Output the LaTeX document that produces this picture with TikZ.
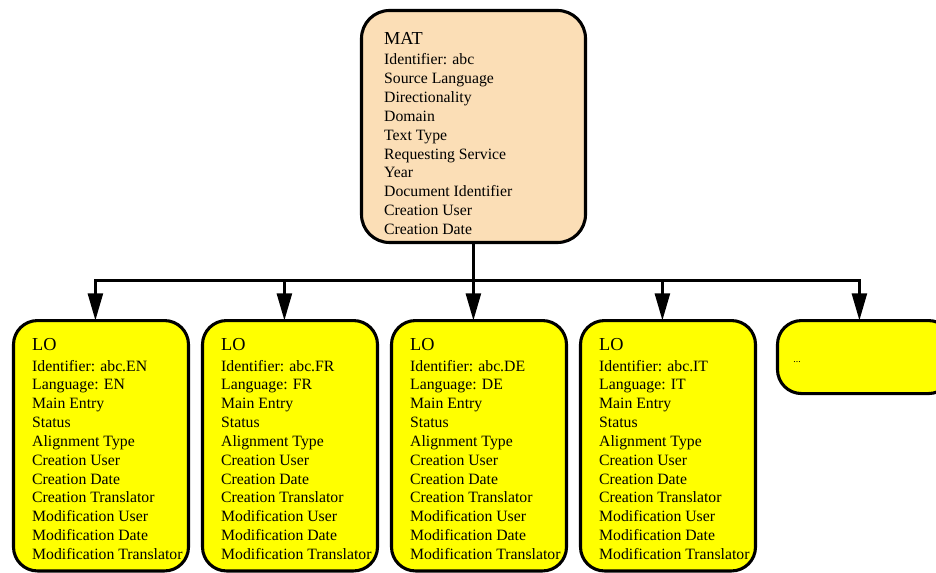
\documentclass[tikz,border=0pt]{standalone}
\usepackage{fontspec}
\setmainfont{Liberation Serif}
\usetikzlibrary{positioning,arrows.meta}
\definecolor{matfill}{RGB}{251,222,182}
\definecolor{lofill}{RGB}{255,255,0}
\newcommand{\lofields}[1]{{\fontsize{13}{15}\selectfont LO}\\[1.2pt]
    Identifier: abc.#1\\ Language: #1\\ Main Entry\\ Status\\ Alignment Type\\
    Creation User\\ Creation Date\\ Creation Translator\\ Modification User\\
    Modification Date\\ Modification Translator}
\begin{document}
\begin{tikzpicture}[node distance=0.35cm]
    \tikzstyle{matbox} = [rectangle, rounded corners=0.7cm, minimum width=5.6cm,
        minimum height=5.8cm, draw=black, line width=2.2pt, fill=matfill, outer sep=0pt]
    \tikzstyle{lobox} = [rectangle, rounded corners=0.6cm, minimum width=4.375cm,
        minimum height=6.26cm, draw=black, line width=2.2pt, fill=lofill, outer sep=0pt]
    \tikzstyle{fields} = [align=left, inner sep=0pt, font=\fontsize{11.2}{13.4}\selectfont]
    \tikzstyle{arrow} = [line width=2.2pt, -{Triangle[length=0.68cm,width=0.37cm]}]

    \useasboundingbox (0,0) rectangle (23.4,-14.325);

    \node (mat) [matbox] at (11.8375,-3.1625) {};
    \node (mattext) [fields, below right=0.54cm and 0.56cm of mat.north west]
        {{\fontsize{13}{15}\selectfont MAT}\\[1.2pt]
        Identifier: abc\\ Source Language\\ Directionality\\ Domain\\ Text Type\\
        Requesting Service\\ Year\\ Document Identifier\\ Creation User\\ Creation Date};

    \node (lo1) [lobox] at (2.525,-11.144) {};
    \node (lo2) [lobox, right=of lo1] {};
    \node (lo3) [lobox, right=of lo2] {};
    \node (lo4) [lobox, right=of lo3] {};
    \node (lo5) [lobox, minimum height=1.825cm, right=0.55cm of lo4.north east,
        anchor=north west] {};

    \node (lo1text) [fields, below right=0.44cm and 0.46cm of lo1.north west] {\lofields{EN}};
    \node (lo2text) [fields, below right=0.44cm and 0.46cm of lo2.north west] {\lofields{FR}};
    \node (lo3text) [fields, below right=0.44cm and 0.46cm of lo3.north west] {\lofields{DE}};
    \node (lo4text) [fields, below right=0.44cm and 0.46cm of lo4.north west] {\lofields{IT}};
    \node (lo5text) [inner sep=0pt, font=\fontsize{7}{8}\selectfont,
        below right=0.1cm and 0.39cm of lo5.west] {...};

    % bus from MAT to every LO
    \coordinate [below=0.96cm of mat.south] (bus);
    \draw [line width=2.2pt] (mat.south) -- (bus);
    \draw [line width=2.2pt, line cap=rect]
        ([xshift=-0.14cm]lo1.north |- bus) -- ([xshift=-0.14cm]lo5.north |- bus);
    \foreach \lo in {lo1,lo2,lo3,lo4,lo5}
        \draw [arrow] ([xshift=-0.14cm]\lo.north |- bus) -- ([xshift=-0.14cm]\lo.north);
\end{tikzpicture}
\end{document}
